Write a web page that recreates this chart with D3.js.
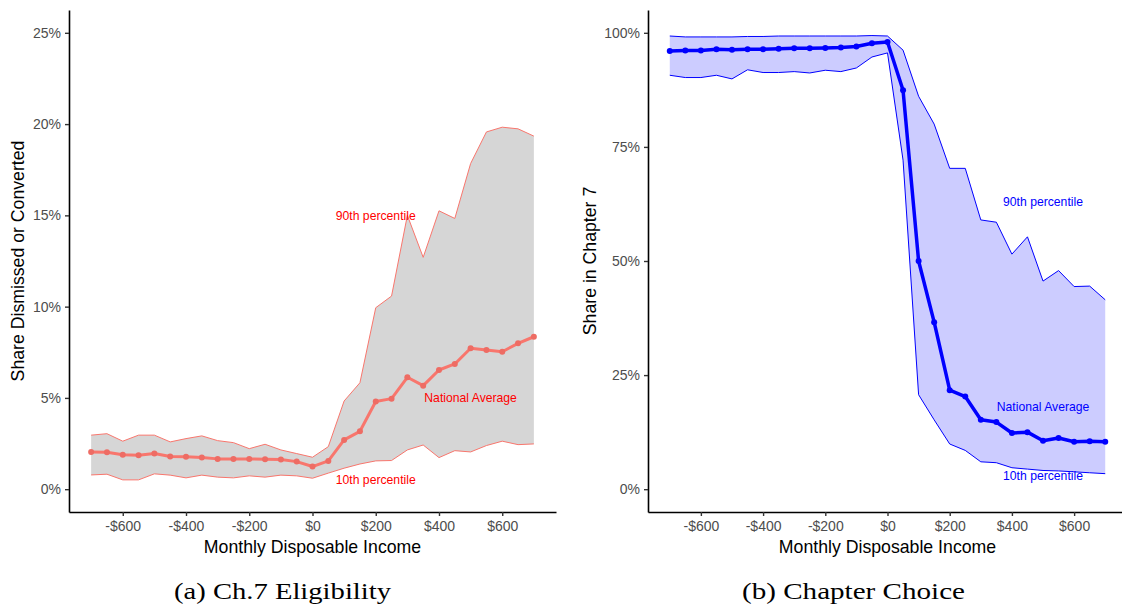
<!DOCTYPE html>
<html>
<head>
<meta charset="utf-8">
<script src="https://cdn.jsdelivr.net/npm/d3@7/dist/d3.min.js"></script>
<style>
  html, body { margin: 0; padding: 0; background: #fff; }
  svg { display: block; }
  .tick text { font-family: "Liberation Sans", Arial, sans-serif; }
</style>
</head>
<body>
<svg id="chart" width="1122" height="608"></svg>
<script>
// Monthly disposable income bins (dollars)
const income = [-700,-650,-600,-550,-500,-450,-400,-350,-300,-250,-200,-150,-100,-50,0,
                50,100,150,200,250,300,350,400,450,500,550,600,650,700];

// Panel (a): share dismissed or converted (%)
const eligAvg = [2.04,2.02,1.89,1.86,1.95,1.79,1.77,1.73,1.66,1.66,1.66,1.64,1.62,1.51,1.24,
                 1.55,2.70,3.17,4.80,4.96,6.13,5.67,6.53,6.86,7.72,7.62,7.53,7.99,8.35];
const eligP90 = [2.96,3.04,2.63,2.96,2.96,2.59,2.77,2.92,2.66,2.55,2.22,2.46,2.15,1.95,1.75,
                 2.33,4.83,5.83,9.94,10.58,15.0,12.70,15.25,14.83,17.84,19.57,19.83,19.74,19.34];
const eligP10 = [0.78,0.82,0.51,0.51,0.84,0.77,0.62,0.77,0.66,0.62,0.73,0.66,0.77,0.73,0.60,
                 0.88,1.15,1.38,1.55,1.57,2.15,2.42,1.73,2.11,2.04,2.39,2.63,2.44,2.48];

// Panel (b): share filing in Chapter 7 (fraction)
const choiceAvg = [0.960,0.961,0.961,0.964,0.963,0.964,0.964,0.965,0.966,0.966,0.967,0.968,0.970,0.977,0.980,
                   0.874,0.500,0.366,0.217,0.203,0.152,0.147,0.123,0.125,0.106,0.112,0.104,0.105,0.104];
const choiceP90 = [0.993,0.991,0.991,0.991,0.991,0.992,0.992,0.993,0.993,0.993,0.993,0.993,0.993,0.994,0.993,
                   0.962,0.861,0.800,0.703,0.703,0.590,0.585,0.515,0.553,0.456,0.479,0.444,0.445,0.415];
const choiceP10 = [0.907,0.902,0.902,0.907,0.899,0.919,0.913,0.913,0.915,0.912,0.918,0.915,0.923,0.947,0.956,
                   0.721,0.207,0.152,0.099,0.085,0.060,0.058,0.047,0.044,0.041,0.040,0.038,0.036,0.034];

// Axis ticks
const xTicks = [-600,-400,-200,0,200,400,600];
const eligTicks = [0,5,10,15,20,25];
const choiceTicks = [0,0.25,0.5,0.75,1];

const svg = d3.select("#chart");
const sans = '"Liberation Sans", Arial, Helvetica, sans-serif';

const fmtMoney = v => (v < 0 ? "-$" : "$") + Math.abs(v);

function panel(opts) {
  const g = svg.append("g");
  const x = d3.scaleLinear().domain([-770, 770]).range(opts.xRange);
  const y = d3.scaleLinear().domain(opts.yDomain).range([512, 10]);
  const rows = income.map((v, i) => ({x: v, avg: opts.avg[i], lo: opts.lo[i], hi: opts.hi[i]}));

  // band between 10th and 90th percentiles
  g.append("path")
    .datum(rows)
    .attr("d", d3.area().x(d => x(d.x)).y0(d => y(d.lo)).y1(d => y(d.hi)))
    .attr("fill", opts.bandFill)
    .attr("stroke", "none");
  [ "lo", "hi" ].forEach(k => {
    g.append("path")
      .datum(rows)
      .attr("d", d3.line().x(d => x(d.x)).y(d => y(d[k])))
      .attr("fill", "none")
      .attr("stroke", opts.color)
      .attr("stroke-width", 1);
  });

  // national average line and points
  g.append("path")
    .datum(rows)
    .attr("d", d3.line().x(d => x(d.x)).y(d => y(d.avg)))
    .attr("fill", "none")
    .attr("stroke", opts.color)
    .attr("stroke-width", opts.lineWidth)
    .attr("stroke-linejoin", "round");
  g.selectAll("circle.pt")
    .data(rows)
    .join("circle")
    .attr("class", "pt")
    .attr("cx", d => x(d.x))
    .attr("cy", d => y(d.avg))
    .attr("r", 3)
    .attr("fill", opts.pointColor);

  // annotations
  opts.labels.forEach(l => {
    g.append("text")
      .attr("x", x(l.x))
      .attr("y", y(l.y))
      .attr("dy", "0.35em")
      .attr("text-anchor", "middle")
      .attr("font-family", sans)
      .attr("font-size", 12.2)
      .attr("fill", opts.labelColor)
      .text(l.text);
  });

  // axes
  const xAxis = g.append("g")
    .attr("transform", "translate(0,512)")
    .call(d3.axisBottom(x).tickValues(xTicks).tickFormat(fmtMoney).tickSize(4).tickSizeOuter(0).tickPadding(4));
  const yAxis = g.append("g")
    .attr("transform", `translate(${opts.xRange[0]},0)`)
    .call(d3.axisLeft(y).tickValues(opts.yTicks).tickFormat(opts.yFmt).tickSize(4).tickSizeOuter(0).tickPadding(4));
  [xAxis, yAxis].forEach(a => {
    a.select(".domain").attr("stroke", "#000").attr("stroke-width", 1.6);
    a.selectAll(".tick line").attr("stroke", "#333").attr("stroke-width", 1.4);
    a.selectAll(".tick text").attr("fill", "#4D4D4D").attr("font-size", 14);
  });
  xAxis.selectAll(".tick text").attr("dy", "0.75em");

  // axis titles
  g.append("text")
    .attr("x", (opts.xRange[0] + x(770)) / 2)
    .attr("y", 553)
    .attr("text-anchor", "middle")
    .attr("font-family", sans)
    .attr("font-size", 17.7)
    .attr("fill", "#000")
    .text("Monthly Disposable Income");
  g.append("text")
    .attr("transform", `translate(${opts.yTitleX},261) rotate(-90)`)
    .attr("text-anchor", "middle")
    .attr("font-family", sans)
    .attr("font-size", 17.7)
    .attr("fill", "#000")
    .text(opts.yTitle);

  // subfigure caption
  g.append("text")
    .attr("x", opts.capX)
    .attr("y", 599)
    .attr("font-family", '"Liberation Serif", "Times New Roman", serif')
    .attr("font-size", 23)
    .attr("textLength", opts.capW)
    .attr("lengthAdjust", "spacingAndGlyphs")
    .attr("fill", "#000")
    .text(opts.caption);
}

panel({
  xRange: [69, 556],
  yDomain: [-1.25, 26.25],
  yTicks: eligTicks,
  yFmt: v => v + "%",
  avg: eligAvg, lo: eligP10, hi: eligP90,
  color: "#F8766D",
  pointColor: "#EE6C64",
  bandFill: "#D6D6D6",
  lineWidth: 3,
  labelColor: "#FF0000",
  labels: [
    {x: 200, y: 15, text: "90th percentile"},
    {x: 500, y: 5, text: "National Average"},
    {x: 200, y: 0.5, text: "10th percentile"}
  ],
  yTitle: "Share Dismissed or Converted",
  yTitleX: 24,
  caption: "(a) Ch.7 Eligibility",
  capX: 174, capW: 217
});

panel({
  xRange: [648, 1127],
  yDomain: [-0.05, 1.05],
  yTicks: choiceTicks,
  yFmt: v => Math.round(v * 100) + "%",
  avg: choiceAvg, lo: choiceP10, hi: choiceP90,
  color: "#0000FF",
  pointColor: "#0000FF",
  bandFill: "#CCCCFF",
  lineWidth: 3.5,
  labelColor: "#0000FF",
  labels: [
    {x: 500, y: 0.63, text: "90th percentile"},
    {x: 500, y: 0.18, text: "National Average"},
    {x: 500, y: 0.03, text: "10th percentile"}
  ],
  yTitle: "Share in Chapter 7",
  yTitleX: 596,
  caption: "(b) Chapter Choice",
  capX: 742, capW: 223
});
</script>
</body>
</html>
